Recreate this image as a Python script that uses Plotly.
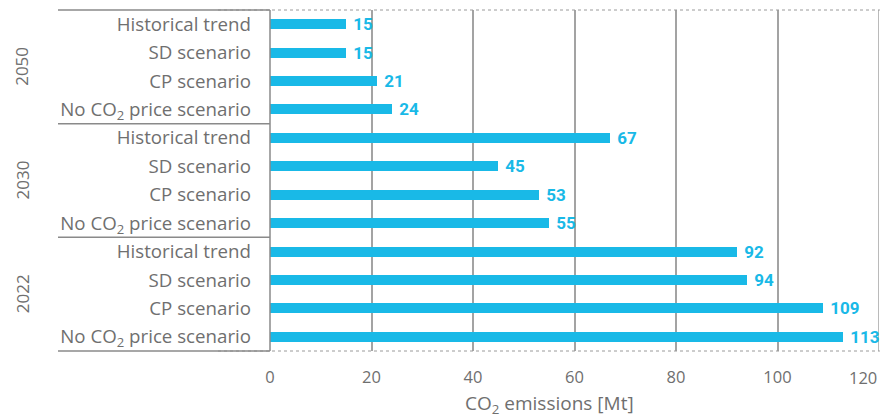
import plotly.graph_objects as go

groups = ["2050", "2030", "2022"]
scenarios = ["Historical trend", "SD scenario", "CP scenario", "No CO<sub>2</sub> price scenario"]
values_2050 = [15, 15, 21, 24]
values_2030 = [67, 45, 53, 55]
values_2022 = [92, 94, 109, 113]
x_ticks = [0, 20, 40, 60, 80, 100, 120]

group_values = [values_2050, values_2030, values_2022]

BAR = "#19b9e7"
GRAY = "#6f6f6f"
LINE = "#a3a3a3"
FONT = "Open Sans"
NUMFONT = "Roboto"

ys, xs, labels = [], [], []
i = 0
for g, vals in zip(groups, group_values):
    for s, v in zip(scenarios, vals):
        ys.append(i)
        xs.append(v)
        labels.append(s)
        i += 1

fig = go.Figure()
fig.add_trace(go.Bar(
    x=xs, y=ys, orientation="h",
    marker=dict(color=BAR, line=dict(width=0)),
    width=0.35,
    text=[f" {v}" for v in xs],
    textposition="outside",
    constraintext="none",
    cliponaxis=False,
    textfont=dict(family=NUMFONT, size=17, color=BAR, weight="bold"),
    hoverinfo="skip",
))

L = 270
R = 879
W = 882
pw = R - L
def px(xpix):
    return (xpix - L) / pw

shapes = []
# dotted top/bottom
for yy in [0, 1]:
    shapes.append(dict(type="line", xref="paper", yref="paper", x0=px(218), x1=1.0015, y0=yy, y1=yy,
                       line=dict(color="#9a9a9a", width=1, dash="dot")))
# left separators
for k in range(4):
    yy = 1 - k / 3
    shapes.append(dict(type="line", xref="paper", yref="paper", x0=px(58), x1=0, y0=yy, y1=yy,
                       line=dict(color="#8a8a8a", width=1.5)))
# vertical axis line
shapes.append(dict(type="line", xref="paper", yref="paper", x0=0, x1=0, y0=0, y1=1,
                   line=dict(color="#8a8a8a", width=1.5)))

annotations = []
for k, g in enumerate(groups):
    annotations.append(dict(text=g, xref="paper", yref="paper", x=px(22), y=1 - (k + 0.5) / 3,
                            textangle=-90, showarrow=False, xanchor="center", yanchor="middle",
                            font=dict(family=FONT, size=17, color=GRAY)))
annotations.append(dict(text=str(x_ticks[-1]), xref="x", yref="paper", x=x_ticks[-1], y=0,
                        yshift=-26, showarrow=False, xanchor="right", yanchor="middle",
                        font=dict(family=FONT, size=16.5, color=GRAY)))
annotations.append(dict(text="CO<sub>2</sub> emissions [Mt]", xref="paper", yref="paper", x=px(549), y=0,
                        yshift=-53, showarrow=False, xanchor="center", yanchor="middle",
                        font=dict(family=FONT, size=19, color=GRAY)))

fig.update_layout(
    width=W, height=419,
    margin=dict(l=L, r=W - R, t=10, b=68),
    paper_bgcolor="white", plot_bgcolor="white",
    showlegend=False,
    bargap=0,
    shapes=shapes,
    annotations=annotations,
    font=dict(family=FONT, size=17, color=GRAY),
    xaxis=dict(range=[0, 120], tickvals=x_ticks[:-1], showgrid=True, gridcolor=LINE, gridwidth=1.5,
               zeroline=False, showline=False, ticks="", ticklabelstandoff=14, automargin=False,
               tickfont=dict(family=FONT, size=16.5, color=GRAY), fixedrange=True),
    yaxis=dict(range=[11.5, -0.5], tickvals=ys, ticktext=labels, showgrid=False, zeroline=False,
               showline=False, ticks="", ticklabelstandoff=18, automargin=False,
               tickfont=dict(family=FONT, size=18.7, color=GRAY), fixedrange=True),
)
# extra gridline at 120
fig.add_shape(type="line", xref="x", yref="paper", x0=120, x1=120, y0=0, y1=1,
              line=dict(color=LINE, width=1.5), layer="below")

fig.write_html("out.html", config={"displayModeBar": False},
               post_script="document.body.style.margin='0';document.body.style.padding='0';")
